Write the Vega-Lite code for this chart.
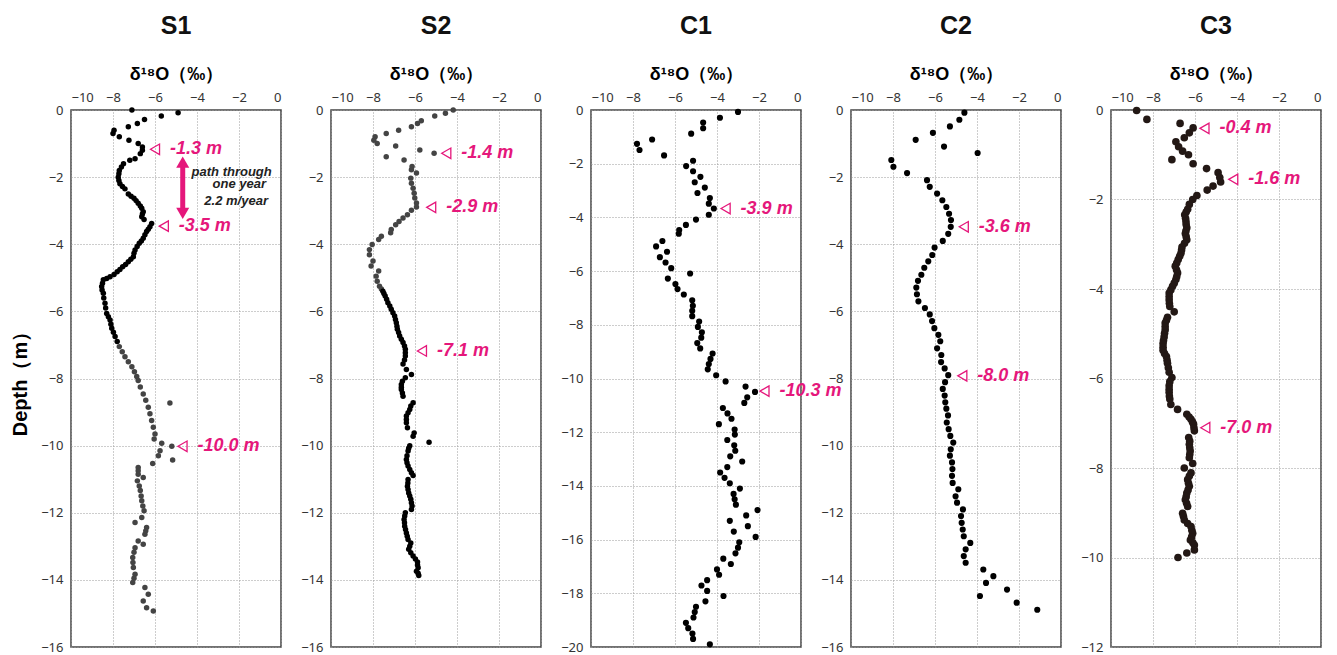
{
"$schema":"https://vega.github.io/schema/vega-lite/v6.json",
"background":"white",
"padding":{"left":9,"top":13,"right":0,"bottom":0},
"spacing":50,
"bounds":"flush",
"config":{
 "view":{"stroke":"#444","strokeWidth":1.5},
 "font":"Noto Sans",
 "axis":{"labelFont":"Noto Sans","labelFontSize":13,"labelColor":"#333","grid":true,"gridColor":"#9a9a9a","gridDash":[1,2],"gridWidth":1,"domain":false,"ticks":false},
 "title":{"font":"Liberation Sans","fontSize":25,"fontWeight":"bold","color":"#111","offset":26}
},
"datasets":{
"s1":[{"x":-7.1,"d":0},{"x":-5.7,"d":-0.18},{"x":-4.9,"d":-0.08},{"x":-6.5,"d":-0.28},{"x":-6.84,"d":-0.4},{"x":-7.27,"d":-0.5},{"x":-7.95,"d":-0.6},{"x":-8.0,"d":-0.7},{"x":-7.7,"d":-0.8},{"x":-7.24,"d":-0.9},{"x":-6.8,"d":-1.0},{"x":-6.6,"d":-1.1},{"x":-6.6,"d":-1.2},{"x":-6.7,"d":-1.3},{"x":-6.95,"d":-1.45},{"x":-7.2,"d":-1.5},{"x":-7.5,"d":-1.6},{"x":-7.6,"d":-1.7},{"x":-7.7,"d":-1.8},{"x":-7.72,"d":-1.9},{"x":-7.75,"d":-2.0},{"x":-7.72,"d":-2.1},{"x":-7.67,"d":-2.2},{"x":-7.55,"d":-2.28},{"x":-7.43,"d":-2.35},{"x":-7.27,"d":-2.5},{"x":-7.14,"d":-2.57},{"x":-7.0,"d":-2.63},{"x":-6.9,"d":-2.7},{"x":-6.8,"d":-2.78},{"x":-6.7,"d":-2.86},{"x":-6.63,"d":-2.93},{"x":-6.56,"d":-3.03},{"x":-6.6,"d":-3.1},{"x":-6.63,"d":-3.18},{"x":-6.52,"d":-3.26},{"x":-6.16,"d":-3.38},{"x":-6.24,"d":-3.48},{"x":-6.32,"d":-3.55},{"x":-6.4,"d":-3.62},{"x":-6.48,"d":-3.72},{"x":-6.56,"d":-3.82},{"x":-6.65,"d":-3.9},{"x":-6.75,"d":-3.97},{"x":-6.85,"d":-4.07},{"x":-6.95,"d":-4.17},{"x":-7.0,"d":-4.27},{"x":-7.03,"d":-4.37},{"x":-7.15,"d":-4.45},{"x":-7.27,"d":-4.52},{"x":-7.4,"d":-4.6},{"x":-7.54,"d":-4.67},{"x":-7.67,"d":-4.75},{"x":-7.8,"d":-4.82},{"x":-7.95,"d":-4.9},{"x":-8.14,"d":-4.97},{"x":-8.3,"d":-5.02},{"x":-8.46,"d":-5.06},{"x":-8.5,"d":-5.16},{"x":-8.54,"d":-5.26},{"x":-8.52,"d":-5.36},{"x":-8.46,"d":-5.46},{"x":-8.44,"d":-5.6},{"x":-8.38,"d":-5.76},{"x":-8.35,"d":-5.9},{"x":-8.3,"d":-6.06},{"x":-8.22,"d":-6.16},{"x":-8.14,"d":-6.26},{"x":-8.1,"d":-6.38},{"x":-8.06,"d":-6.5},{"x":-7.98,"d":-6.62},{"x":-7.9,"d":-6.75},{"x":-7.8,"d":-6.9},{"x":-7.7,"d":-7.05},{"x":-7.56,"d":-7.2},{"x":-7.43,"d":-7.35},{"x":-7.27,"d":-7.5},{"x":-7.1,"d":-7.65},{"x":-6.98,"d":-7.8},{"x":-6.87,"d":-7.94},{"x":-6.8,"d":-8.06},{"x":-6.7,"d":-8.25},{"x":-6.56,"d":-8.46},{"x":-6.44,"d":-8.65},{"x":-6.32,"d":-8.86},{"x":-6.24,"d":-9.05},{"x":-6.16,"d":-9.25},{"x":-6.08,"d":-9.45},{"x":-6.0,"d":-9.65},{"x":-6.04,"d":-9.8},{"x":-5.29,"d":-8.73},{"x":-5.68,"d":-9.93},{"x":-5.2,"d":-10.02},{"x":-5.76,"d":-10.15},{"x":-5.84,"d":-10.3},{"x":-5.16,"d":-10.43},{"x":-6.11,"d":-10.53},{"x":-6.8,"d":-10.65},{"x":-6.8,"d":-10.75},{"x":-6.8,"d":-10.85},{"x":-6.56,"d":-10.95},{"x":-6.84,"d":-11.05},{"x":-6.75,"d":-11.2},{"x":-6.7,"d":-11.34},{"x":-6.66,"d":-11.5},{"x":-6.63,"d":-11.64},{"x":-6.58,"d":-11.8},{"x":-6.52,"d":-11.94},{"x":-6.63,"d":-12.14},{"x":-6.95,"d":-12.29},{"x":-6.4,"d":-12.44},{"x":-6.44,"d":-12.54},{"x":-6.48,"d":-12.64},{"x":-6.8,"d":-12.84},{"x":-6.56,"d":-12.94},{"x":-6.95,"d":-13.04},{"x":-7.0,"d":-13.18},{"x":-7.06,"d":-13.33},{"x":-7.05,"d":-13.48},{"x":-7.03,"d":-13.63},{"x":-6.95,"d":-13.83},{"x":-7.0,"d":-13.95},{"x":-7.06,"d":-14.08},{"x":-6.48,"d":-14.23},{"x":-6.32,"d":-14.43},{"x":-6.56,"d":-14.63},{"x":-6.4,"d":-14.83},{"x":-6.08,"d":-14.93}],
"s2":[{"x":-4.18,"d":0},{"x":-4.55,"d":-0.1},{"x":-5.06,"d":-0.18},{"x":-5.7,"d":-0.32},{"x":-5.88,"d":-0.4},{"x":-6.17,"d":-0.5},{"x":-6.78,"d":-0.6},{"x":-7.37,"d":-0.7},{"x":-7.9,"d":-0.8},{"x":-7.96,"d":-0.9},{"x":-7.8,"d":-1.0},{"x":-6.92,"d":-1.07},{"x":-5.77,"d":-1.19},{"x":-5.09,"d":-1.29},{"x":-7.37,"d":-1.39},{"x":-6.52,"d":-1.49},{"x":-6.14,"d":-1.68},{"x":-6.17,"d":-1.78},{"x":-5.93,"d":-1.88},{"x":-6.2,"d":-2.03},{"x":-6.17,"d":-2.18},{"x":-6.09,"d":-2.33},{"x":-6.04,"d":-2.48},{"x":-6.01,"d":-2.62},{"x":-5.93,"d":-2.77},{"x":-5.93,"d":-2.89},{"x":-6.17,"d":-2.99},{"x":-6.36,"d":-3.12},{"x":-6.57,"d":-3.22},{"x":-6.76,"d":-3.32},{"x":-6.92,"d":-3.42},{"x":-7.13,"d":-3.56},{"x":-7.16,"d":-3.66},{"x":-7.6,"d":-3.76},{"x":-7.73,"d":-3.86},{"x":-8.04,"d":-4.01},{"x":-8.17,"d":-4.16},{"x":-8.17,"d":-4.31},{"x":-8.0,"d":-4.5},{"x":-8.09,"d":-4.65},{"x":-7.73,"d":-4.8},{"x":-7.85,"d":-4.95},{"x":-7.8,"d":-5.1},{"x":-7.69,"d":-5.25},{"x":-7.6,"d":-5.33},{"x":-7.53,"d":-5.4},{"x":-7.48,"d":-5.47},{"x":-7.42,"d":-5.54},{"x":-7.35,"d":-5.64},{"x":-7.29,"d":-5.74},{"x":-7.2,"d":-5.84},{"x":-7.13,"d":-5.94},{"x":-7.05,"d":-6.04},{"x":-6.97,"d":-6.14},{"x":-6.93,"d":-6.24},{"x":-6.89,"d":-6.34},{"x":-6.86,"d":-6.44},{"x":-6.84,"d":-6.53},{"x":-6.78,"d":-6.63},{"x":-6.73,"d":-6.73},{"x":-6.65,"d":-6.83},{"x":-6.57,"d":-6.93},{"x":-6.5,"d":-7.03},{"x":-6.46,"d":-7.13},{"x":-6.46,"d":-7.23},{"x":-6.46,"d":-7.33},{"x":-6.5,"d":-7.45},{"x":-6.57,"d":-7.57},{"x":-6.41,"d":-7.73},{"x":-6.17,"d":-7.88},{"x":-6.46,"d":-7.98},{"x":-6.6,"d":-8.08},{"x":-6.65,"d":-8.18},{"x":-6.65,"d":-8.26},{"x":-6.65,"d":-8.33},{"x":-6.6,"d":-8.43},{"x":-6.57,"d":-8.53},{"x":-6.09,"d":-8.72},{"x":-6.2,"d":-8.82},{"x":-6.25,"d":-8.92},{"x":-6.33,"d":-9.02},{"x":-6.41,"d":-9.12},{"x":-6.41,"d":-9.22},{"x":-6.41,"d":-9.32},{"x":-6.36,"d":-9.47},{"x":-6.04,"d":-9.62},{"x":-6.09,"d":-9.72},{"x":-5.33,"d":-9.9},{"x":-6.25,"d":-10.0},{"x":-6.3,"d":-10.08},{"x":-6.33,"d":-10.16},{"x":-6.38,"d":-10.3},{"x":-6.41,"d":-10.41},{"x":-6.38,"d":-10.51},{"x":-6.33,"d":-10.61},{"x":-6.25,"d":-10.71},{"x":-6.17,"d":-10.81},{"x":-6.09,"d":-10.89},{"x":-6.33,"d":-11.01},{"x":-6.34,"d":-11.11},{"x":-6.36,"d":-11.21},{"x":-6.33,"d":-11.31},{"x":-6.3,"d":-11.41},{"x":-6.25,"d":-11.5},{"x":-6.2,"d":-11.6},{"x":-6.17,"d":-11.7},{"x":-6.14,"d":-11.8},{"x":-6.17,"d":-11.9},{"x":-6.46,"d":-12.0},{"x":-6.49,"d":-12.1},{"x":-6.52,"d":-12.2},{"x":-6.5,"d":-12.3},{"x":-6.49,"d":-12.4},{"x":-6.45,"d":-12.5},{"x":-6.41,"d":-12.6},{"x":-6.37,"d":-12.7},{"x":-6.33,"d":-12.8},{"x":-6.2,"d":-12.9},{"x":-6.25,"d":-13.0},{"x":-6.3,"d":-13.09},{"x":-6.2,"d":-13.19},{"x":-6.09,"d":-13.29},{"x":-5.98,"d":-13.38},{"x":-5.88,"d":-13.47},{"x":-5.88,"d":-13.56},{"x":-5.85,"d":-13.64},{"x":-5.93,"d":-13.74},{"x":-5.85,"d":-13.8},{"x":-5.82,"d":-13.87}],
"c1":[{"x":-3.0,"d":-0.07},{"x":-3.86,"d":-0.29},{"x":-4.66,"d":-0.47},{"x":-4.66,"d":-0.68},{"x":-5.23,"d":-0.88},{"x":-7.09,"d":-1.1},{"x":-7.81,"d":-1.26},{"x":-7.69,"d":-1.49},{"x":-6.52,"d":-1.69},{"x":-5.14,"d":-1.89},{"x":-5.47,"d":-2.09},{"x":-5.14,"d":-2.28},{"x":-4.79,"d":-2.49},{"x":-5.06,"d":-2.69},{"x":-4.58,"d":-2.89},{"x":-4.93,"d":-3.09},{"x":-4.34,"d":-3.28},{"x":-4.39,"d":-3.49},{"x":-4.15,"d":-3.67},{"x":-4.39,"d":-3.9},{"x":-5.0,"d":-4.08},{"x":-5.48,"d":-4.28},{"x":-5.8,"d":-4.47},{"x":-5.82,"d":-4.61},{"x":-6.6,"d":-4.88},{"x":-6.9,"d":-5.08},{"x":-6.38,"d":-5.28},{"x":-6.72,"d":-5.48},{"x":-6.45,"d":-5.68},{"x":-6.18,"d":-5.89},{"x":-5.28,"d":-6.09},{"x":-6.34,"d":-6.28},{"x":-5.98,"d":-6.48},{"x":-5.88,"d":-6.67},{"x":-5.58,"d":-6.87},{"x":-5.18,"d":-7.09},{"x":-5.15,"d":-7.29},{"x":-5.18,"d":-7.48},{"x":-5.18,"d":-7.68},{"x":-4.85,"d":-7.88},{"x":-4.91,"d":-8.08},{"x":-4.72,"d":-8.28},{"x":-4.75,"d":-8.48},{"x":-4.94,"d":-8.68},{"x":-4.8,"d":-8.88},{"x":-4.21,"d":-9.07},{"x":-4.31,"d":-9.27},{"x":-4.39,"d":-9.46},{"x":-4.44,"d":-9.66},{"x":-4.04,"d":-9.88},{"x":-3.59,"d":-10.11},{"x":-2.64,"d":-10.3},{"x":-2.19,"d":-10.5},{"x":-2.56,"d":-10.7},{"x":-2.7,"d":-10.91},{"x":-3.72,"d":-11.1},{"x":-3.5,"d":-11.3},{"x":-3.31,"d":-11.5},{"x":-3.91,"d":-11.7},{"x":-3.16,"d":-11.9},{"x":-3.15,"d":-12.09},{"x":-3.51,"d":-12.29},{"x":-3.18,"d":-12.49},{"x":-3.13,"d":-12.69},{"x":-3.37,"d":-12.9},{"x":-2.8,"d":-13.09},{"x":-3.51,"d":-13.3},{"x":-3.85,"d":-13.5},{"x":-3.64,"d":-13.7},{"x":-3.39,"d":-13.9},{"x":-2.91,"d":-14.1},{"x":-3.21,"d":-14.3},{"x":-3.16,"d":-14.5},{"x":-3.1,"d":-14.7},{"x":-2.07,"d":-14.9},{"x":-2.61,"d":-15.1},{"x":-3.39,"d":-15.3},{"x":-2.53,"d":-15.5},{"x":-3.2,"d":-15.7},{"x":-2.16,"d":-15.9},{"x":-2.94,"d":-16.1},{"x":-3.0,"d":-16.3},{"x":-3.12,"d":-16.51},{"x":-3.7,"d":-16.71},{"x":-3.34,"d":-16.91},{"x":-4.0,"d":-17.11},{"x":-3.9,"d":-17.31},{"x":-4.47,"d":-17.51},{"x":-4.74,"d":-17.71},{"x":-4.47,"d":-17.91},{"x":-3.69,"d":-18.1},{"x":-4.55,"d":-18.3},{"x":-5.0,"d":-18.5},{"x":-5.06,"d":-18.7},{"x":-5.12,"d":-18.9},{"x":-5.48,"d":-19.1},{"x":-5.37,"d":-19.3},{"x":-5.17,"d":-19.5},{"x":-5.14,"d":-19.7},{"x":-4.34,"d":-19.9}],
"c2":[{"x":-4.6,"d":-0.08},{"x":-4.84,"d":-0.29},{"x":-5.29,"d":-0.49},{"x":-6.1,"d":-0.68},{"x":-6.92,"d":-0.89},{"x":-5.57,"d":-1.09},{"x":-3.97,"d":-1.28},{"x":-8.08,"d":-1.49},{"x":-7.98,"d":-1.69},{"x":-7.33,"d":-1.88},{"x":-6.38,"d":-2.09},{"x":-6.25,"d":-2.29},{"x":-5.9,"d":-2.49},{"x":-5.65,"d":-2.69},{"x":-5.46,"d":-2.89},{"x":-5.33,"d":-3.09},{"x":-5.24,"d":-3.28},{"x":-5.25,"d":-3.48},{"x":-5.37,"d":-3.69},{"x":-5.63,"d":-3.9},{"x":-6.02,"d":-4.1},{"x":-6.13,"d":-4.32},{"x":-6.32,"d":-4.51},{"x":-6.51,"d":-4.7},{"x":-6.65,"d":-4.91},{"x":-6.81,"d":-5.09},{"x":-6.89,"d":-5.29},{"x":-6.86,"d":-5.49},{"x":-6.79,"d":-5.7},{"x":-6.48,"d":-5.9},{"x":-6.25,"d":-6.09},{"x":-6.14,"d":-6.29},{"x":-6.03,"d":-6.5},{"x":-5.84,"d":-6.7},{"x":-5.75,"d":-6.89},{"x":-5.9,"d":-7.1},{"x":-5.7,"d":-7.3},{"x":-5.71,"d":-7.51},{"x":-5.54,"d":-7.7},{"x":-5.37,"d":-7.9},{"x":-5.52,"d":-8.11},{"x":-5.63,"d":-8.31},{"x":-5.54,"d":-8.51},{"x":-5.51,"d":-8.71},{"x":-5.46,"d":-8.9},{"x":-5.38,"d":-9.1},{"x":-5.44,"d":-9.31},{"x":-5.35,"d":-9.51},{"x":-5.27,"d":-9.71},{"x":-5.13,"d":-9.91},{"x":-5.25,"d":-10.11},{"x":-5.29,"d":-10.3},{"x":-5.19,"d":-10.5},{"x":-5.17,"d":-10.7},{"x":-5.19,"d":-10.9},{"x":-5.16,"d":-11.11},{"x":-4.89,"d":-11.3},{"x":-5.02,"d":-11.51},{"x":-4.95,"d":-11.7},{"x":-4.67,"d":-11.9},{"x":-4.76,"d":-12.1},{"x":-4.73,"d":-12.3},{"x":-4.68,"d":-12.5},{"x":-4.63,"d":-12.7},{"x":-4.32,"d":-12.9},{"x":-4.54,"d":-13.09},{"x":-4.63,"d":-13.29},{"x":-4.54,"d":-13.49},{"x":-3.7,"d":-13.69},{"x":-3.22,"d":-13.89},{"x":-3.57,"d":-14.09},{"x":-2.57,"d":-14.29},{"x":-3.86,"d":-14.48},{"x":-2.11,"d":-14.68},{"x":-1.13,"d":-14.89}],
"c3":[{"x":-8.78,"d":-0.01},{"x":-8.29,"d":-0.21},{"x":-6.71,"d":-0.3},{"x":-6.09,"d":-0.4},{"x":-6.27,"d":-0.51},{"x":-6.51,"d":-0.62},{"x":-6.91,"d":-0.71},{"x":-6.78,"d":-0.82},{"x":-6.59,"d":-0.92},{"x":-6.31,"d":-1.0},{"x":-7.1,"d":-1.11},{"x":-6.09,"d":-1.2},{"x":-5.45,"d":-1.31},{"x":-4.9,"d":-1.4},{"x":-4.82,"d":-1.51},{"x":-4.78,"d":-1.61},{"x":-5.14,"d":-1.7},{"x":-5.42,"d":-1.79},{"x":-5.91,"d":-1.91},{"x":-6.11,"d":-2.0},{"x":-6.27,"d":-2.11},{"x":-6.35,"d":-2.22},{"x":-6.42,"d":-2.28},{"x":-6.49,"d":-2.34},{"x":-6.45,"d":-2.42},{"x":-6.43,"d":-2.49},{"x":-6.42,"d":-2.56},{"x":-6.39,"d":-2.63},{"x":-6.43,"d":-2.7},{"x":-6.46,"d":-2.76},{"x":-6.42,"d":-2.83},{"x":-6.39,"d":-2.9},{"x":-6.5,"d":-2.98},{"x":-6.62,"d":-3.06},{"x":-6.64,"d":-3.13},{"x":-6.67,"d":-3.2},{"x":-6.73,"d":-3.27},{"x":-6.8,"d":-3.34},{"x":-6.87,"d":-3.42},{"x":-6.94,"d":-3.49},{"x":-6.88,"d":-3.57},{"x":-6.83,"d":-3.64},{"x":-6.87,"d":-3.72},{"x":-6.91,"d":-3.79},{"x":-6.99,"d":-3.87},{"x":-7.07,"d":-3.94},{"x":-7.15,"d":-4.02},{"x":-7.23,"d":-4.09},{"x":-7.23,"d":-4.17},{"x":-7.23,"d":-4.24},{"x":-7.22,"d":-4.32},{"x":-7.2,"d":-4.39},{"x":-6.99,"d":-4.51},{"x":-7.31,"d":-4.63},{"x":-7.36,"d":-4.7},{"x":-7.42,"d":-4.76},{"x":-7.42,"d":-4.84},{"x":-7.42,"d":-4.91},{"x":-7.45,"d":-4.99},{"x":-7.47,"d":-5.07},{"x":-7.5,"d":-5.15},{"x":-7.52,"d":-5.22},{"x":-7.52,"d":-5.3},{"x":-7.52,"d":-5.37},{"x":-7.45,"d":-5.44},{"x":-7.36,"d":-5.51},{"x":-7.33,"d":-5.59},{"x":-7.31,"d":-5.66},{"x":-7.27,"d":-5.76},{"x":-7.23,"d":-5.86},{"x":-7.1,"d":-5.98},{"x":-7.2,"d":-6.07},{"x":-7.23,"d":-6.16},{"x":-7.23,"d":-6.24},{"x":-7.23,"d":-6.31},{"x":-7.22,"d":-6.39},{"x":-7.2,"d":-6.46},{"x":-7.15,"d":-6.58},{"x":-6.83,"d":-6.69},{"x":-6.39,"d":-6.8},{"x":-6.28,"d":-6.86},{"x":-6.19,"d":-6.91},{"x":-6.12,"d":-6.97},{"x":-6.07,"d":-7.02},{"x":-6.05,"d":-7.1},{"x":-6.03,"d":-7.17},{"x":-6.3,"d":-7.32},{"x":-6.25,"d":-7.4},{"x":-6.27,"d":-7.47},{"x":-6.25,"d":-7.55},{"x":-6.23,"d":-7.62},{"x":-6.25,"d":-7.7},{"x":-6.27,"d":-7.77},{"x":-6.11,"d":-7.9},{"x":-6.51,"d":-8.0},{"x":-6.19,"d":-8.11},{"x":-6.27,"d":-8.18},{"x":-6.35,"d":-8.26},{"x":-6.31,"d":-8.34},{"x":-6.27,"d":-8.41},{"x":-6.33,"d":-8.49},{"x":-6.39,"d":-8.56},{"x":-6.42,"d":-8.64},{"x":-6.46,"d":-8.71},{"x":-6.4,"d":-8.79},{"x":-6.35,"d":-8.86},{"x":-6.59,"d":-9.01},{"x":-6.55,"d":-9.08},{"x":-6.51,"d":-9.16},{"x":-6.35,"d":-9.24},{"x":-6.19,"d":-9.31},{"x":-6.15,"d":-9.39},{"x":-6.11,"d":-9.46},{"x":-6.16,"d":-9.54},{"x":-6.22,"d":-9.61},{"x":-6.1,"d":-9.67},{"x":-6.03,"d":-9.72},{"x":-6.03,"d":-9.83},{"x":-6.39,"d":-9.9},{"x":-6.81,"d":-10.0}],
"a1":[{"x":-6.0,"d":-1.17,"t":"-1.3 m"},{"x":-5.58,"d":-3.46,"t":"-3.5 m"},{"x":-4.69,"d":-10.02,"t":"-10.0 m"}],
"a2":[{"x":-4.51,"d":-1.29,"t":"-1.4 m"},{"x":-5.23,"d":-2.9,"t":"-2.9 m"},{"x":-5.67,"d":-7.18,"t":"-7.1 m"}],
"a3":[{"x":-3.59,"d":-3.67,"t":"-3.9 m"},{"x":-1.74,"d":-10.47,"t":"-10.3 m"}],
"a4":[{"x":-4.63,"d":-3.48,"t":"-3.6 m"},{"x":-4.7,"d":-7.92,"t":"-8.0 m"}],
"a5":[{"x":-5.55,"d":-0.41,"t":"-0.4 m"},{"x":-4.18,"d":-1.55,"t":"-1.6 m"},{"x":-5.51,"d":-7.1,"t":"-7.0 m"}],
"arrow":[{"x":-4.68,"d":-1.64,"d2":-2.99}],
"headUp":[{"x":-4.68,"d":-1.55}],
"headDown":[{"x":-4.68,"d":-3.08}],
"note":[{"x":-0.44,"d":-1.84,"t":"path through"},{"x":-0.71,"d":-2.21,"t":"one year"},{"x":-0.62,"d":-2.72,"t":"2.2 m/year"}]
},
"hconcat":[
{"title":"S1","width":210,"height":537,
 "encoding":{
  "x":{"field":"x","type":"quantitative","scale":{"domain":[-10,0],"nice":false},"axis":{"orient":"top","values":[-10,-8,-6,-4,-2,0],"title":"δ¹⁸O（‰）","titleFont":"Liberation Sans","titleFontSize":18,"titleFontWeight":"bold","titleColor":"#000","titlePadding":8,"labelPadding":6}},
  "y":{"field":"d","type":"quantitative","scale":{"domain":[-16,0],"nice":false},"axis":{"values":[0,-2,-4,-6,-8,-10,-12,-14,-16],"title":"Depth（m）","titleFont":"Liberation Sans","titleFontSize":20,"titleFontWeight":"bold","titleColor":"#000","titlePadding":10,"labelPadding":8}}
 },
 "layer":[
  {"data":{"name":"s1"},"mark":{"type":"circle","size":30,"opacity":1},"encoding":{"color":{"condition":{"test":"datum.d < -7","value":"#444"},"value":"#000"}}},
  {"data":{"name":"arrow"},"mark":{"type":"rule","color":"#E5177B","strokeWidth":5},"encoding":{"y2":{"field":"d2"}}},
  {"data":{"name":"headUp"},"mark":{"type":"point","shape":"triangle-up","size":170,"filled":true,"opacity":1,"color":"#E5177B"},"encoding":{}},
  {"data":{"name":"headDown"},"mark":{"type":"point","shape":"triangle-down","size":170,"filled":true,"opacity":1,"color":"#E5177B"},"encoding":{}},
  {"data":{"name":"note"},"mark":{"type":"text","align":"right","baseline":"middle","font":"Liberation Sans","fontSize":13,"fontWeight":"bold","fontStyle":"italic","color":"#222"},"encoding":{"text":{"field":"t"}}},
  {"data":{"name":"a1"},"mark":{"type":"point","shape":"triangle-left","size":110,"filled":false,"strokeWidth":1.3,"opacity":1,"color":"#E5177B"},"encoding":{}},
  {"data":{"name":"a1"},"mark":{"type":"text","align":"left","baseline":"middle","dx":15,"font":"Liberation Sans","fontSize":18,"fontWeight":"bold","fontStyle":"italic","color":"#E5177B"},"encoding":{"text":{"field":"t"}}}
 ]},
{"title":"S2","width":210,"height":537,
 "encoding":{
  "x":{"field":"x","type":"quantitative","scale":{"domain":[-10,0],"nice":false},"axis":{"orient":"top","values":[-10,-8,-6,-4,-2,0],"title":"δ¹⁸O（‰）","titleFont":"Liberation Sans","titleFontSize":18,"titleFontWeight":"bold","titleColor":"#000","titlePadding":8,"labelPadding":6}},
  "y":{"field":"d","type":"quantitative","scale":{"domain":[-16,0],"nice":false},"axis":{"values":[0,-2,-4,-6,-8,-10,-12,-14,-16],"title":null,"labelPadding":8}}
 },
 "layer":[
  {"data":{"name":"s2"},"mark":{"type":"circle","size":30,"opacity":1},"encoding":{"color":{"condition":{"test":"datum.d > -5.4","value":"#444"},"value":"#000"}}},
  {"data":{"name":"a2"},"mark":{"type":"point","shape":"triangle-left","size":110,"filled":false,"strokeWidth":1.3,"opacity":1,"color":"#E5177B"},"encoding":{}},
  {"data":{"name":"a2"},"mark":{"type":"text","align":"left","baseline":"middle","dx":15,"font":"Liberation Sans","fontSize":18,"fontWeight":"bold","fontStyle":"italic","color":"#E5177B"},"encoding":{"text":{"field":"t"}}}
 ]},
{"title":"C1","width":210,"height":537,
 "encoding":{
  "x":{"field":"x","type":"quantitative","scale":{"domain":[-10,0],"nice":false},"axis":{"orient":"top","values":[-10,-8,-6,-4,-2,0],"title":"δ¹⁸O（‰）","titleFont":"Liberation Sans","titleFontSize":18,"titleFontWeight":"bold","titleColor":"#000","titlePadding":8,"labelPadding":6}},
  "y":{"field":"d","type":"quantitative","scale":{"domain":[-20,0],"nice":false},"axis":{"values":[0,-2,-4,-6,-8,-10,-12,-14,-16,-18,-20],"title":null,"labelPadding":8}}
 },
 "layer":[
  {"data":{"name":"c1"},"mark":{"type":"circle","size":38,"opacity":1,"color":"#000"}},
  {"data":{"name":"a3"},"mark":{"type":"point","shape":"triangle-left","size":110,"filled":false,"strokeWidth":1.3,"opacity":1,"color":"#E5177B"},"encoding":{}},
  {"data":{"name":"a3"},"mark":{"type":"text","align":"left","baseline":"middle","dx":15,"font":"Liberation Sans","fontSize":18,"fontWeight":"bold","fontStyle":"italic","color":"#E5177B"},"encoding":{"text":{"field":"t"}}}
 ]},
{"title":"C2","width":210,"height":537,
 "encoding":{
  "x":{"field":"x","type":"quantitative","scale":{"domain":[-10,0],"nice":false},"axis":{"orient":"top","values":[-10,-8,-6,-4,-2,0],"title":"δ¹⁸O（‰）","titleFont":"Liberation Sans","titleFontSize":18,"titleFontWeight":"bold","titleColor":"#000","titlePadding":8,"labelPadding":6}},
  "y":{"field":"d","type":"quantitative","scale":{"domain":[-16,0],"nice":false},"axis":{"values":[0,-2,-4,-6,-8,-10,-12,-14,-16],"title":null,"labelPadding":8}}
 },
 "layer":[
  {"data":{"name":"c2"},"mark":{"type":"circle","size":38,"opacity":1,"color":"#000"}},
  {"data":{"name":"a4"},"mark":{"type":"point","shape":"triangle-left","size":110,"filled":false,"strokeWidth":1.3,"opacity":1,"color":"#E5177B"},"encoding":{}},
  {"data":{"name":"a4"},"mark":{"type":"text","align":"left","baseline":"middle","dx":15,"font":"Liberation Sans","fontSize":18,"fontWeight":"bold","fontStyle":"italic","color":"#E5177B"},"encoding":{"text":{"field":"t"}}}
 ]},
{"title":"C3","width":210,"height":537,
 "encoding":{
  "x":{"field":"x","type":"quantitative","scale":{"domain":[-10,0],"nice":false},"axis":{"orient":"top","values":[-10,-8,-6,-4,-2,0],"title":"δ¹⁸O（‰）","titleFont":"Liberation Sans","titleFontSize":18,"titleFontWeight":"bold","titleColor":"#000","titlePadding":8,"labelPadding":6}},
  "y":{"field":"d","type":"quantitative","scale":{"domain":[-12,0],"nice":false},"axis":{"values":[0,-2,-4,-6,-8,-10,-12],"title":null,"labelPadding":8}}
 },
 "layer":[
  {"data":{"name":"c3"},"mark":{"type":"circle","size":58,"opacity":1,"color":"#231815"}},
  {"data":{"name":"a5"},"mark":{"type":"point","shape":"triangle-left","size":110,"filled":false,"strokeWidth":1.3,"opacity":1,"color":"#E5177B"},"encoding":{}},
  {"data":{"name":"a5"},"mark":{"type":"text","align":"left","baseline":"middle","dx":15,"font":"Liberation Sans","fontSize":18,"fontWeight":"bold","fontStyle":"italic","color":"#E5177B"},"encoding":{"text":{"field":"t"}}}
 ]}
]
}
